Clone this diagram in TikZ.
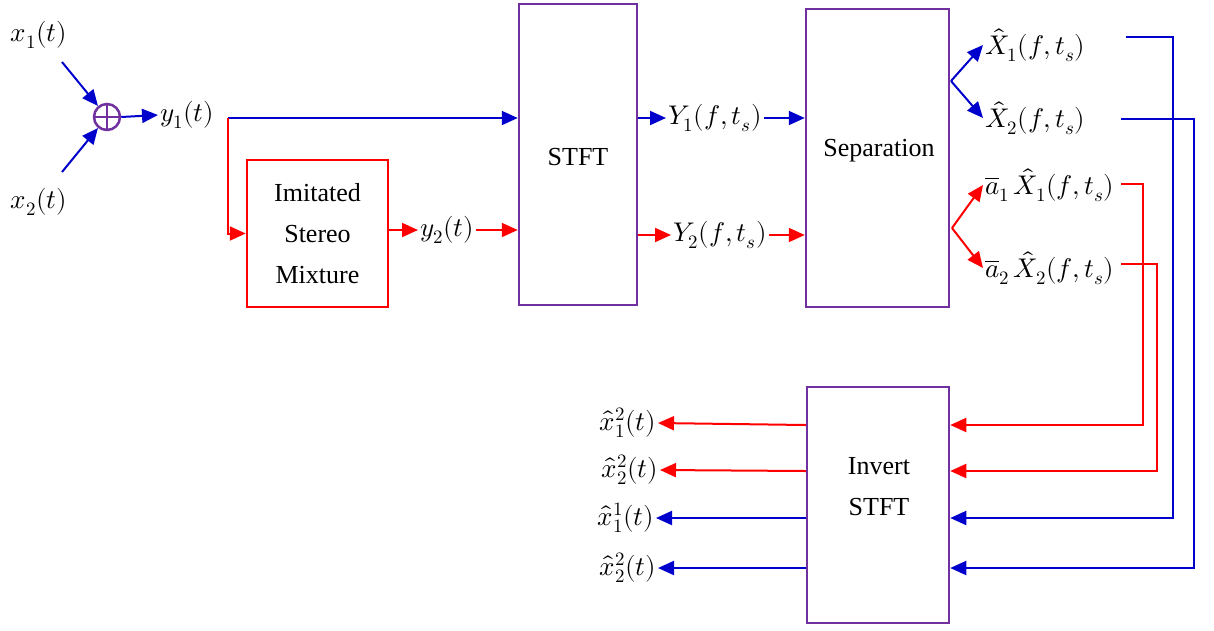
\documentclass[tikz,border=0pt]{standalone}
\usepackage{fontspec}
\usepackage{unicode-math}
\setmainfont{Liberation Serif}
\usetikzlibrary{arrows.meta}
\definecolor{sigblue}{HTML}{0000CC}
\definecolor{sigred}{HTML}{FF0000}
\definecolor{boxpurple}{HTML}{7030A0}
\tikzset{
  sig/.style={line width=2pt},
  arr/.style={sig,-{Triangle[length=16pt,width=14pt]}},
  bl/.style={draw=sigblue,color=sigblue},
  rd/.style={draw=sigred,color=sigred},
  pbox/.style={draw=boxpurple,line width=2.5pt,fill=white,inner sep=0pt},
  rbox/.style={draw=sigred,line width=2.5pt,fill=white,inner sep=0pt},
  lbl/.style={font=\fontsize{27}{31}\selectfont,inner sep=2pt},
  btxt/.style={font=\fontsize{26}{41}\selectfont,align=center},
}
\begin{document}
\begin{tikzpicture}[x=1pt,y=-1pt]
\useasboundingbox (0,0) rectangle (1214,630);
% boxes
\node[rbox,minimum width=141pt,minimum height=147pt] (ism) at (317.5,233.5) {};
\node[btxt] at (ism.center) {Imitated\\Stereo\\Mixture};
\node[pbox,minimum width=118pt,minimum height=301pt] (stft) at (578,154.5) {};
\node[btxt] at (578,157) {STFT};
\node[pbox,minimum width=143pt,minimum height=298pt] (sep) at (877.5,158) {};
\node[btxt] at (879,151) {Separation};
\node[pbox,minimum width=142pt,minimum height=236pt] (inv) at (878,505) {};
\node[btxt] at (879,487) {Invert\\STFT};
% adder
\node[circle,draw=boxpurple,line width=2.5pt,minimum size=26pt,inner sep=0pt] (sum) at (107,117) {};
\draw[boxpurple,line width=2.5pt] (sum.north) -- (sum.south) (sum.west) -- (sum.east);
% labels
\node[lbl] (x1) at (39,35) {$x_1(t)$};
\node[lbl] (x2) at (39,202) {$x_2(t)$};
\node[lbl,anchor=west] (y1) at (158,115) {$y_1(t)$};
\node[lbl,anchor=west] (y2) at (418,230) {$y_2(t)$};
\node[lbl,anchor=west] (Y1) at (666,118) {$Y_1(f,t_s)$};
\node[lbl,anchor=west] (Y2) at (671,235) {$Y_2(f,t_s)$};
\node[lbl,anchor=west] (Xh1) at (983,45) {$\hat{X}_1(f,t_s)$};
\node[lbl,anchor=west] (Xh2) at (983,118) {$\hat{X}_2(f,t_s)$};
\node[lbl,anchor=west] (A1) at (983,185) {$\overline{a}_1\,\hat{X}_1(f,t_s)$};
\node[lbl,anchor=west] (A2) at (983,268) {$\overline{a}_2\,\hat{X}_2(f,t_s)$};
\node[lbl,anchor=east] (o1) at (658,423) {$\hat{x}_1^2(t)$};
\node[lbl,anchor=east] (o2) at (660,470) {$\hat{x}_2^2(t)$};
\node[lbl,anchor=east] (o3) at (656,518) {$\hat{x}_1^1(t)$};
\node[lbl,anchor=east] (o4) at (658,568) {$\hat{x}_2^2(t)$};
% coordinates
\coordinate (x1e) at (62,62);
\coordinate (x2e) at (62,172);
\coordinate (sp) at (228,118);
\coordinate (bf) at (951,81);
\coordinate (rf) at (952,228);
\coordinate (w1) at (1126,37);
\coordinate (w2) at (1121,119);
\coordinate (w3) at (1121,184);
\coordinate (w4) at (1121,264);
% input side
\draw[arr,bl] (x1e) -- (sum);
\draw[arr,bl] (x2e) -- (sum);
\draw[arr,bl] (sum.east) -- (y1.west);
\draw[arr,bl] (sp) -- (stft.west |- sp);
\draw[arr,rd] (sp) -- (sp |- ism.west) -- (ism.west);
\draw[arr,rd] (ism.east |- y2) -- (y2.west);
\draw[arr,rd] (y2.east) -- (stft.west |- y2);
\draw[arr,bl] (stft.east |- Y1) -- (Y1.west);
\draw[arr,bl] (Y1.east) -- (sep.west |- Y1);
\draw[arr,rd] (stft.east |- Y2) -- (Y2.west);
\draw[arr,rd] (Y2.east) -- (sep.west |- Y2);
% forks
\draw[arr,bl] (bf) -- (Xh1.west);
\draw[arr,bl] (bf) -- (Xh2.west);
\draw[arr,rd] (rf) -- (A1.west);
\draw[arr,rd] (rf) -- (A2.west);
% feedback wires
\draw[arr,rd] (w3) -- (1143,184) -- (1143,425) -- (inv.east |- 0,425);
\draw[arr,rd] (w4) -- (1157,264) -- (1157,471) -- (inv.east |- 0,471);
\draw[arr,bl] (w1) -- (1173,37) -- (1173,518) -- (inv.east |- 0,518);
\draw[arr,bl] (w2) -- (1194,119) -- (1194,568) -- (inv.east |- 0,568);
% outputs
\draw[arr,rd] (inv.west |- 0,425) -- (o1.east);
\draw[arr,rd] (inv.west |- 0,471) -- (o2.east);
\draw[arr,bl] (inv.west |- 0,518) -- (o3.east);
\draw[arr,bl] (inv.west |- 0,568) -- (o4.east);
\end{tikzpicture}
\end{document}
